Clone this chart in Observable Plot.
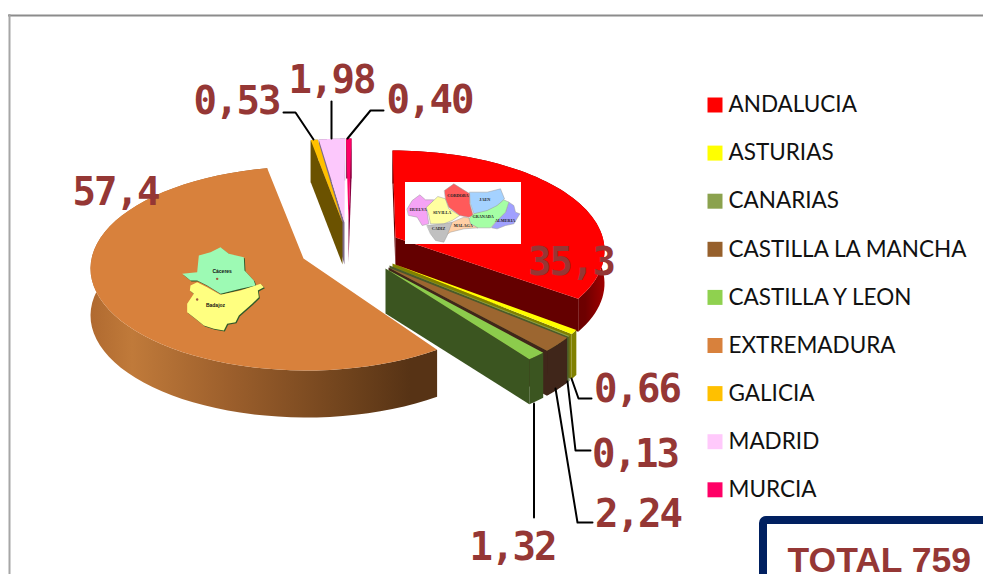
<!DOCTYPE html>
<html><head><meta charset="utf-8">
<script src="https://cdn.jsdelivr.net/npm/d3@7"></script>
<script src="https://cdn.jsdelivr.net/npm/@observablehq/plot@0.6"></script>
<style>html,body{margin:0;padding:0;background:#fff}svg{display:block}.vlabel text{letter-spacing:-2px}</style>
</head><body><div id="chart"></div>
<script>
// ---- chart data ----
const regions = ["ANDALUCIA","ASTURIAS","CANARIAS","CASTILLA LA MANCHA","CASTILLA Y LEON","EXTREMADURA","GALICIA","MADRID","MURCIA"];
const values = [35.3,0.66,0.13,2.24,1.32,57.4,0.53,1.98,0.40];
const valueLabels = ["35,3","0,66","0,13","2,24","1,32","57,4","0,53","1,98","0,40"];
const topColors = ["#ff0000","#ffff00","#8a9f50","#9c6630","#8ccc4c","#d8813c","#ffc000","#fcc8fc","#ff0066"];
const legendColors = ["#ff0000","#ffff00","#8ba24e","#96602c","#8fd14f","#d8813c","#ffc000","#ffc9fb","#ff0066"];
const wallColors = ["#640000","#808000","#4a5a2a","#40261a","#3b5520","url(#wallOrange)","#6b5200","#7f6a8c","#8a0040"];
const totalLabel = "TOTAL 759";

// ---- layout of the exploded 3-D pie (pixels) ----
// c: ellipse centre, a: apex of top face, rx/ry: ellipse radii, warp: perspective angle warp, d: depth
const pieGeom = [
  {c:[392,250],a:[395,237],rx:212,ry:100,warp:10.4,d:33},
  {c:[385,285],a:[392,263],rx:213,ry:100,warp:13.5,d:45},
  {c:[385,285],a:[389,265],rx:213,ry:100,warp:12,d:45},
  {c:[385,285],a:[388,267],rx:213,ry:100,warp:11,d:45},
  {c:[385,285],a:[385,268],rx:213,ry:100,warp:8.7,d:45},
  {c:[306,268],a:[303,258],rx:216,ry:102,warp:0,d:47},
  {c:[349,238],a:[342,222],rx:213,ry:100,warp:0,d:42},
  {c:[350,238],a:[344,222],rx:213,ry:100,warp:0,d:42},
  {c:[351,238],a:[348,222],rx:213,ry:100,warp:0,d:40}
];
const total = d3.sum(values);
const cum = d3.cumsum(values);
const rad = Math.PI/180;
function rim(i, n=60){
  const g = pieGeom[i];
  const a0 = (cum[i]-values[i])/total*360, a1 = cum[i]/total*360;
  return d3.range(n+1).map(k=>{
    const t = a0+(a1-a0)*k/n;
    const w = (t - g.warp*Math.sin(t*rad))*rad;
    return [g.c[0]+g.rx*Math.sin(w), g.c[1]-g.ry*Math.cos(w)];
  });
}
const polys = [];
const addPoly = (key,fill,pts)=>pts.forEach(p=>polys.push({key,fill,x:p[0],y:p[1]}));
const drawOrder = [0,5,8,7,6,1,2,3,4];
drawOrder.forEach(i=>{
  const g = pieGeom[i], r = rim(i), dn = p=>[p[0],p[1]+g.d];
  const first = r[0], last = r[r.length-1];
  const wall = wallColors[i];
  // outer wall
  addPoly(`o${i}`, i===0?"url(#wallRed)":wall, [...r, ...r.slice().reverse().map(dn)]);
  // radial walls facing the viewer
  if(i<5) addPoly(`e${i}`, wall, [g.a,last,dn(last),dn(g.a)]);
  if(i===0||i===6||i===7) addPoly(`s${i}`, wall, [g.a,first,dn(first),dn(g.a)]);
  if(i===8) addPoly(`e${i}`, wall, [g.a,last,dn(last),dn(g.a)]);
  // top face
  addPoly(`t${i}`, topColors[i], [g.a,...r]);
});

// maps (decorative) – outlines, in local units
const extremadura = [
 {name:"Cáceres",fill:"#9dfab4",pts:[[35,115],[80,110],[85,60],[120,50],[150,35],[175,55],[220,65],[222,105],[250,135],[255,150],[210,160],[150,175],[110,150],[80,135],[60,135]]},
 {name:"Badajoz",fill:"#ffff80",pts:[[60,150],[80,140],[110,155],[150,178],[210,165],[270,145],[280,155],[262,165],[265,185],[245,205],[205,240],[195,260],[170,265],[160,285],[130,280],[100,270],[75,250],[50,230],[50,205],[70,175],[58,165]]}
];
const extLabels = [{t:"Cáceres",x:155,y:107},{t:"Badajoz",x:135,y:209}];
const extDots = [[140,130],[80,192]];
const andalucia = [
 {fill:"#f5a3f5",pts:[[80,205],[95,180],[118,163],[135,178],[160,178],[138,205],[145,250],[125,255],[110,230],[85,225]]},
 {fill:"#ffffa0",pts:[[138,200],[172,168],[195,175],[205,205],[238,225],[215,240],[190,250],[150,250],[145,225]]},
 {fill:"#ff5a5a",pts:[[192,150],[220,130],[268,160],[268,190],[278,225],[265,230],[238,225],[205,200],[195,175]]},
 {fill:"#a5d2ff",pts:[[268,155],[320,155],[360,145],[372,175],[345,200],[310,215],[280,220],[270,190]]},
 {fill:"#a0a0ff",pts:[[385,185],[400,195],[405,215],[418,220],[400,250],[375,255],[350,265],[333,262],[350,240],[375,215]]},
 {fill:"#a5ffa5",pts:[[265,235],[280,220],[320,210],[350,195],[370,178],[385,185],[375,215],[345,245],[330,262],[290,262],[270,250]]},
 {fill:"#ffcfa5",pts:[[195,285],[215,245],[250,230],[265,232],[270,250],[292,262],[250,265],[210,275]]},
 {fill:"#c0c0c0",pts:[[140,255],[190,250],[215,245],[200,285],[190,305],[165,300],[150,280]]}
];
const andLabels = [["HUELVA",113,207],["SEVILLA",185,215],["CORDOBA",232,165],["JAEN",313,178],["GRANADA",308,229],["ALMERIA",374,240],["MALAGA",248,254],["CADIZ",174,265]];
const ex = ([x,y])=>[170+x/3,235+y/3], an = ([x,y])=>[380+x/3,140+y/3];
const mapPolys=[];
extremadura.forEach((m,i)=>{
  m.pts.forEach(p=>{const q=ex(p);mapPolys.push({key:"s"+i,fill:"#2f5a2a",x:q[0]+1,y:q[1]+1})});
});
extremadura.forEach((m,i)=>{
  m.pts.forEach(p=>{const q=ex(p);mapPolys.push({key:"e"+i,fill:m.fill,x:q[0],y:q[1]})});
});
const whiteBox=[{x1:405,x2:521,y1:182,y2:244}];
const andPolys=[];
andalucia.forEach((m,i)=>m.pts.forEach(p=>{const q=an(p);andPolys.push({key:"a"+i,fill:m.fill,x:q[0],y:q[1]})}));

// label anchors and leader lines
const labelPos = [[570.5,274],[636.5,401],[634.5,466],[637.5,526],[512,559],[115,204],[236,113],[331,92],[429,112]];
const leaders = [null,
 [[571,378],[578,398],[591,398]],
 [[567,381],[575,450],[590,450]],
 [[555,388],[577,522],[592,522]],
 [[533.5,403],[533.5,517]],
 null,
 [[283,112],[295,112],[313,139]],
 [[331,101],[331,138]],
 [[383,110],[370,110],[347,138]]
];
const leaderPts=[];
leaders.forEach((l,i)=>l&&l.forEach(p=>leaderPts.push({key:i,x:p[0],y:p[1]})));
const labels = valueLabels.map((t,i)=>({t,x:labelPos[i][0],y:labelPos[i][1]}));

const legendRows = regions.map((r,i)=>({r,color:legendColors[i],y:104.5+48.1*i}));

const defs = ()=>{
  const d = d3.create("svg:defs");
  const g = d.append("linearGradient").attr("id","wallOrange").attr("gradientUnits","userSpaceOnUse")
    .attr("x1",90).attr("x2",437).attr("y1",0).attr("y2",0);
  [[0,"#b06a30"],[0.12,"#c07a3a"],[0.4,"#9c5f2c"],[0.75,"#6e421c"],[0.92,"#573315"],[1,"#573315"]]
    .forEach(([o,c])=>g.append("stop").attr("offset",o).attr("stop-color",c));
  const h = d.append("linearGradient").attr("id","wallRed").attr("gradientUnits","userSpaceOnUse")
    .attr("x1",540).attr("x2",604).attr("y1",0).attr("y2",0);
  [[0,"#600000"],[0.7,"#6e0000"],[1,"#a00000"]].forEach(([o,c])=>h.append("stop").attr("offset",o).attr("stop-color",c));
  return d.node();
};

const lineFill=(data)=>Plot.line(data,{x:"x",y:"y",z:"key",fill:"fill",stroke:"none",curve:"linear-closed"});
const chart = Plot.plot({
  width:983,height:574,margin:0,
  x:{domain:[0,983],range:[0,983],axis:null},
  y:{domain:[0,574],range:[0,574],axis:null},
  style:{background:"#fff"},
  marks:[
    defs,
    // outer frame
    Plot.ruleY([15],{x1:8,x2:983,stroke:"#8c8c8c",strokeWidth:2}),
    Plot.ruleX([9],{y1:14,y2:574,stroke:"#a6a6a6",strokeWidth:2}),
    lineFill(polys),
    lineFill(mapPolys),
    Plot.dot(extDots.map(ex),{x:d=>d[0],y:d=>d[1],r:1.2,fill:"#a05a40"}),
    Plot.text(extLabels,{x:d=>ex([d.x,d.y])[0],y:d=>ex([d.x,d.y])[1],text:"t",fontSize:5,fontWeight:"bold",fontFamily:"Liberation Sans",fill:"#111"}),
    Plot.rect(whiteBox,{x1:"x1",x2:"x2",y1:"y1",y2:"y2",fill:"#fff"}),
    Plot.line(andPolys,{x:"x",y:"y",z:"key",fill:"fill",stroke:"#9a9a9a",strokeWidth:0.5,curve:"linear-closed"}),
    Plot.text(andLabels,{x:d=>an([d[1],d[2]])[0],y:d=>an([d[1],d[2]])[1],text:d=>d[0],fontSize:4.2,fontWeight:"bold",fontFamily:"Liberation Serif",fill:"#222"}),
    Plot.line(leaderPts,{x:"x",y:"y",z:"key",stroke:"#000",strokeWidth:2,curve:"linear"}),
    Plot.text(labels,{x:"x",y:"y",text:"t",lineAnchor:"bottom",fontSize:39,fontWeight:"bold",fontFamily:"DejaVu Sans Mono",fill:"#953735",className:"vlabel"}),
    // legend
    Plot.dot(legendRows,{x:714.5,y:"y",symbol:"square",r:8.46,fill:"color",stroke:"none"}),
    Plot.text(legendRows,{x:728,y:"y",text:"r",textAnchor:"start",fontSize:22.5,fontFamily:"Lato",fill:"#111"}),
    // total box
    Plot.rect([{}],{x1:763,x2:1000,y1:520,y2:600,stroke:"#002060",strokeWidth:8,fill:"#fff",rx:3}),
    Plot.text([totalLabel],{x:787,y:571,text:d=>d,textAnchor:"start",lineAnchor:"bottom",fontSize:35.5,fontWeight:"bold",fontFamily:"Liberation Sans",fill:"#953735"})
  ]
});
document.getElementById("chart").append(chart);
</script></body></html>
